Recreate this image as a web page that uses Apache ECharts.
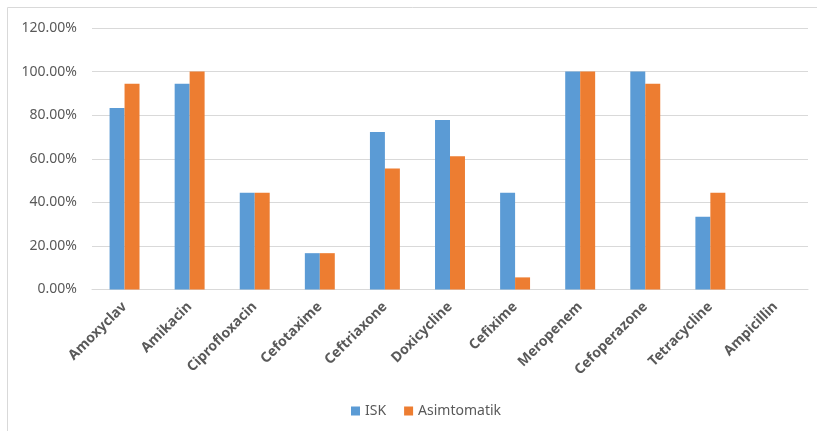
<!DOCTYPE html>
<html><head><meta charset="utf-8">
<script src="https://cdn.jsdelivr.net/npm/echarts@6/dist/echarts.min.js"></script>
<style>html,body{margin:0;padding:0;background:#fff}#c{width:817px;height:431px}</style>
</head><body><div id="c"></div>
<script>
const categories = ['Amoxyclav','Amikacin','Ciprofloxacin','Cefotaxime','Ceftriaxone','Doxicycline','Cefixime','Meropenem','Cefoperazone','Tetracycline','Ampicillin'];
const isk = [83.33, 94.44, 44.44, 16.67, 72.22, 77.78, 44.44, 100, 100, 33.33, 0];
const asimtomatik = [94.44, 100, 44.44, 16.67, 55.56, 61.11, 5.56, 100, 94.44, 44.44, 0];
const seriesNames = ['ISK', 'Asimtomatik'];
const font = '"Noto Sans", "Open Sans", sans-serif';
const chart = echarts.init(document.getElementById('c'));
chart.setOption({
  animation: false,
  textStyle: { fontFamily: font },
  graphic: [{ type: 'rect', shape: { x: 7.5, y: 7.5, width: 820, height: 430 }, style: { fill: 'none', stroke: '#D9D9D9', lineWidth: 1 } }],
  grid: { left: 92, right: 9, top: 28, bottom: 141.5 },
  legend: {
    data: seriesNames, top: 399, left: 346, itemWidth: 9, itemHeight: 9, itemGap: 18,
    icon: 'rect', textStyle: { fontSize: 14, color: '#595959', fontFamily: font }
  },
  xAxis: {
    type: 'category', data: categories,
    axisLine: { lineStyle: { color: '#D9D9D9' } }, axisTick: { show: false },
    axisLabel: { rotate: 45, interval: 0, fontSize: 14, fontWeight: 'bold', color: '#595959', margin: 15, fontFamily: font }
  },
  yAxis: {
    type: 'value', min: 0, max: 120, interval: 20,
    axisLine: { show: false }, axisTick: { show: false },
    splitLine: { lineStyle: { color: '#D9D9D9' } },
    axisLabel: { fontSize: 14, color: '#595959', margin: 15, fontFamily: font, formatter: v => v.toFixed(2) + '%' }
  },
  series: [
    { name: seriesNames[0], type: 'bar', data: isk, barGap: '0%', barCategoryGap: '54%', itemStyle: { color: '#5B9BD5' } },
    { name: seriesNames[1], type: 'bar', data: asimtomatik, barGap: '0%', barCategoryGap: '54%', itemStyle: { color: '#ED7D31' } }
  ]
});
</script></body></html>
